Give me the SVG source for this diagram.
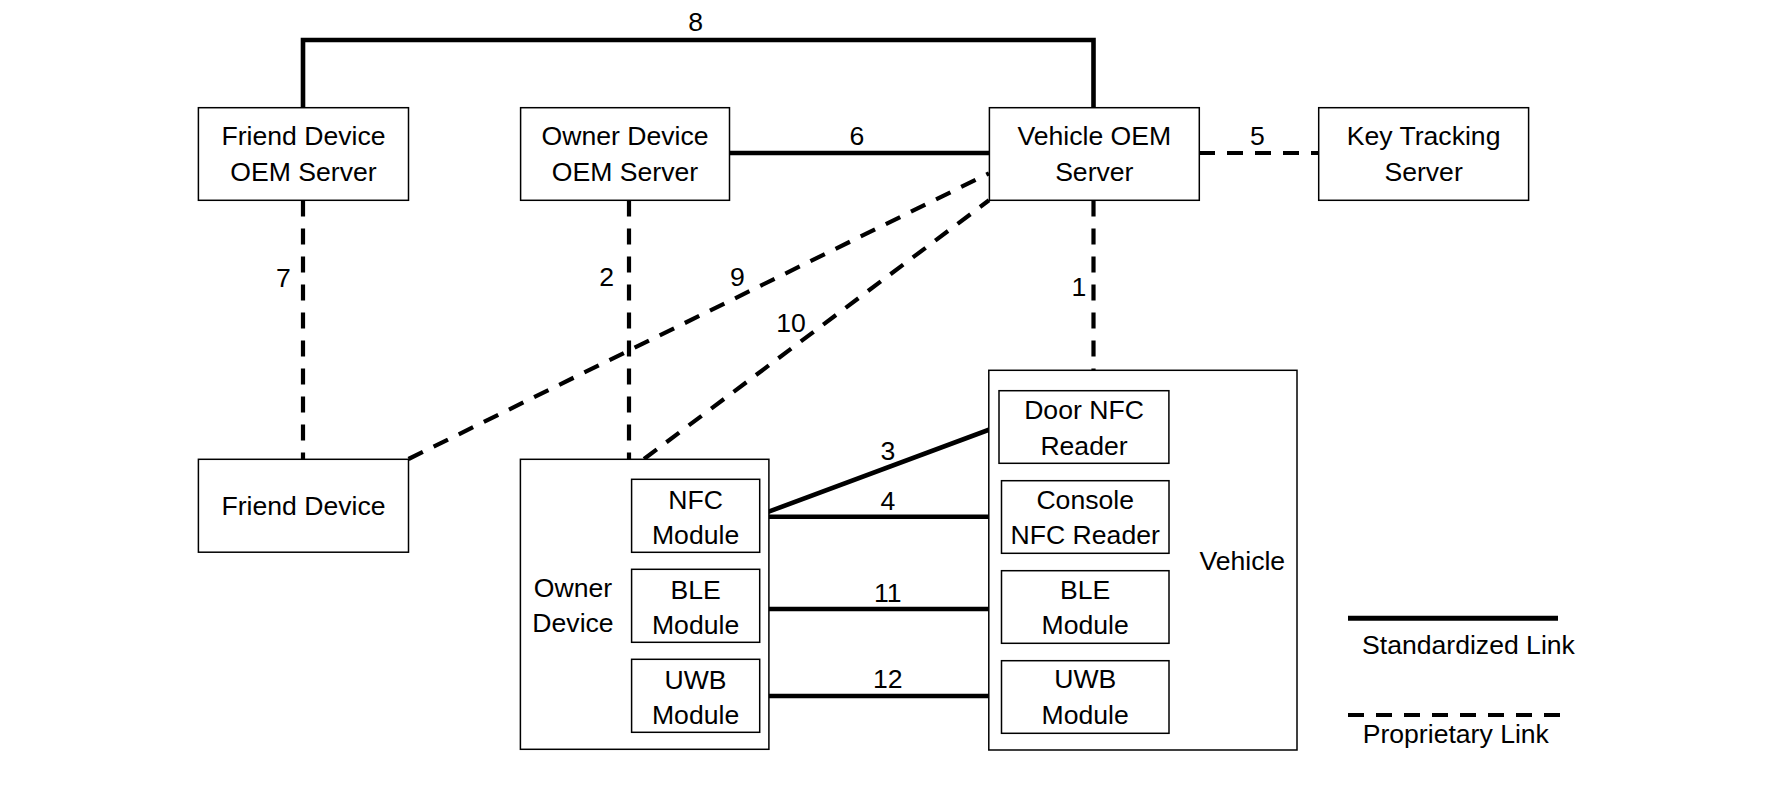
<svg xmlns="http://www.w3.org/2000/svg" width="1783" height="786" viewBox="0 0 1783 786">
<style>
  .box { fill: #fff; stroke: #000; stroke-width: 1.5; }
  .t { font-family: "Liberation Sans", Arial, sans-serif; font-size: 26.6px; fill: #000; text-anchor: middle; }
  .lt { font-family: "Liberation Sans", Arial, sans-serif; font-size: 26.6px; fill: #000; text-anchor: start; }
  .std { fill: none; stroke: #000; stroke-width: 4.6; }
  .prop { fill: none; stroke: #000; stroke-width: 4.2; stroke-dasharray: 16 12; }
</style>
<rect width="1783" height="786" fill="#fff"/>

<g id="connectors">
  <path id="link8" class="std" d="M303,108 V40 H1093.5 V108"/>
  <line id="link6" class="std" x1="730" y1="153" x2="989" y2="153"/>
  <line id="link5" class="prop" x1="1199" y1="153" x2="1318.7" y2="153"/>
  <line id="link7" class="prop" x1="303" y1="200.5" x2="303" y2="459"/>
  <line id="link2" class="prop" x1="629" y1="200.5" x2="629" y2="459"/>
  <line id="link1" class="prop" x1="1093.5" y1="200.5" x2="1093.5" y2="370"/>
  <line id="link9" class="prop" x1="408.5" y1="459" x2="989" y2="173.3"/>
  <line id="link10" class="prop" x1="644" y1="459" x2="989" y2="200.3"/>
  <line id="link3" class="std" x1="759.7" y1="515" x2="999" y2="426"/>
  <line id="link4" class="std" x1="759.7" y1="516.7" x2="1001.5" y2="516.7"/>
  <line id="link11" class="std" x1="759.7" y1="609" x2="1001.5" y2="609"/>
  <line id="link12" class="std" x1="759.7" y1="696" x2="1001.5" y2="696"/>
  <text class="t" x="695.7" y="30.7">8</text>
  <text class="t" x="857" y="145">6</text>
  <text class="t" x="1257.5" y="145">5</text>
  <text class="t" x="283.3" y="287">7</text>
  <text class="t" x="606.7" y="286">2</text>
  <text class="t" x="737.3" y="286">9</text>
  <text class="t" x="791" y="332">10</text>
  <text class="t" x="1079" y="296">1</text>
  <text class="t" x="887.8" y="460">3</text>
  <text class="t" x="887.8" y="510">4</text>
  <text class="t" x="887.8" y="601.7">11</text>
  <text class="t" x="887.8" y="688">12</text>
</g>

<g id="friend-oem">
  <rect class="box" x="198.4" y="107.7" width="210.1" height="92.6"/>
  <text class="t" x="303.5" y="144.5">Friend Device</text>
  <text class="t" x="303.5" y="181">OEM Server</text>
</g>
<g id="owner-oem">
  <rect class="box" x="520.6" y="107.7" width="208.9" height="92.6"/>
  <text class="t" x="625" y="144.5">Owner Device</text>
  <text class="t" x="625" y="181">OEM Server</text>
</g>
<g id="vehicle-oem">
  <rect class="box" x="989.4" y="107.7" width="209.9" height="92.6"/>
  <text class="t" x="1094.3" y="144.5">Vehicle OEM</text>
  <text class="t" x="1094.3" y="181">Server</text>
</g>
<g id="key-tracking">
  <rect class="box" x="1318.7" y="107.7" width="209.9" height="92.6"/>
  <text class="t" x="1423.6" y="144.5">Key Tracking</text>
  <text class="t" x="1423.6" y="181">Server</text>
</g>
<g id="friend-device">
  <rect class="box" x="198.4" y="459.3" width="210.1" height="92.9"/>
  <text class="t" x="303.5" y="515">Friend Device</text>
</g>

<g id="owner-device">
  <rect class="box" x="520.4" y="459.3" width="248.5" height="290"/>
  <text class="t" x="573" y="597">Owner</text>
  <text class="t" x="573" y="632">Device</text>
</g>
<g id="owner-nfc">
  <rect class="box" x="631.6" y="479.3" width="128.1" height="73"/>
  <text class="t" x="695.6" y="508.5">NFC</text>
  <text class="t" x="695.6" y="543.5">Module</text>
</g>
<g id="owner-ble">
  <rect class="box" x="631.6" y="569.3" width="128.1" height="73"/>
  <text class="t" x="695.6" y="598.5">BLE</text>
  <text class="t" x="695.6" y="633.5">Module</text>
</g>
<g id="owner-uwb">
  <rect class="box" x="631.6" y="659.3" width="128.1" height="73"/>
  <text class="t" x="695.6" y="688.5">UWB</text>
  <text class="t" x="695.6" y="723.5">Module</text>
</g>

<g id="vehicle">
  <rect class="box" x="988.8" y="370.3" width="308.2" height="379.7"/>
  <text class="t" x="1242.3" y="569.5">Vehicle</text>
</g>
<g id="door-nfc">
  <rect class="box" x="999" y="390.7" width="169.9" height="72.6"/>
  <text class="t" x="1084" y="418.5">Door NFC</text>
  <text class="t" x="1084" y="454.5">Reader</text>
</g>
<g id="console-nfc">
  <rect class="box" x="1001.5" y="480.7" width="167.5" height="72.6"/>
  <text class="t" x="1085.2" y="508.5">Console</text>
  <text class="t" x="1085.2" y="544">NFC Reader</text>
</g>
<g id="vehicle-ble">
  <rect class="box" x="1001.5" y="570.7" width="167.5" height="72.6"/>
  <text class="t" x="1085.2" y="598.5">BLE</text>
  <text class="t" x="1085.2" y="634">Module</text>
</g>
<g id="vehicle-uwb">
  <rect class="box" x="1001.5" y="660.7" width="167.5" height="72.6"/>
  <text class="t" x="1085.2" y="688">UWB</text>
  <text class="t" x="1085.2" y="724">Module</text>
</g>

<g id="legend">
  <line class="std" x1="1348" y1="618.3" x2="1558" y2="618.3" style="stroke-width:5"/>
  <text class="lt" x="1362" y="653.5">Standardized Link</text>
  <line class="prop" x1="1348" y1="715" x2="1560" y2="715"/>
  <text class="lt" x="1362.7" y="743.3">Proprietary Link</text>
</g>
</svg>
